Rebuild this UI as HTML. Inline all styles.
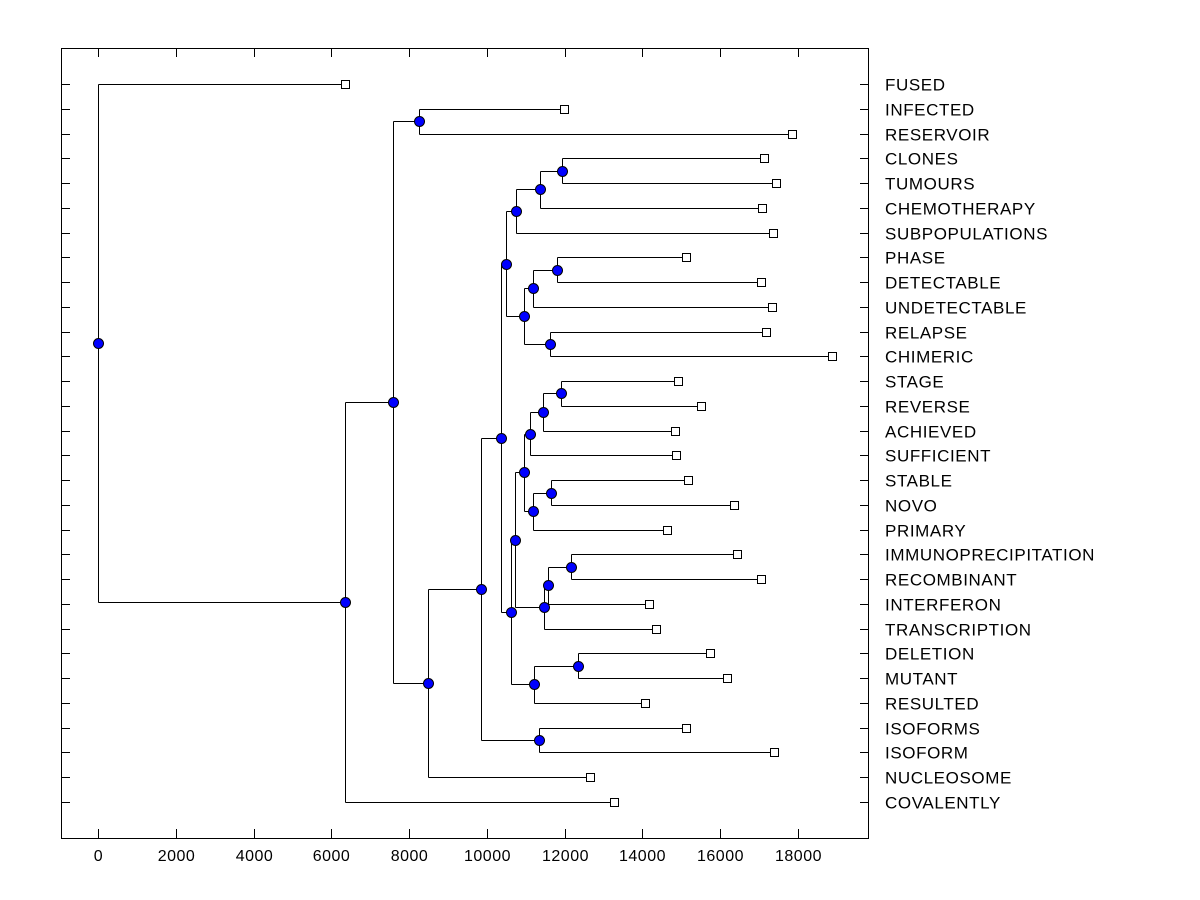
<!DOCTYPE html>
<html><head><meta charset="utf-8"><style>
body{margin:0;background:#fff;}
svg{display:block;font-family:"Liberation Sans",Arial,sans-serif;}
</style></head><body>
<svg id="chart" width="1200" height="900"></svg>
<script>
const leaves=["FUSED","INFECTED","RESERVOIR","CLONES","TUMOURS","CHEMOTHERAPY","SUBPOPULATIONS","PHASE","DETECTABLE","UNDETECTABLE","RELAPSE","CHIMERIC","STAGE","REVERSE","ACHIEVED","SUFFICIENT","STABLE","NOVO","PRIMARY","IMMUNOPRECIPITATION","RECOMBINANT","INTERFERON","TRANSCRIPTION","DELETION","MUTANT","RESULTED","ISOFORMS","ISOFORM","NUCLEOSOME","COVALENTLY"];
const leafValues=[6350,11980,17845,17125,17435,17075,17355,15120,17050,17330,17175,18875,14915,15505,14835,14865,15170,16355,14630,16430,17050,14170,14350,15735,16175,14065,15120,17385,12650,13270];
// internal nodes: [name, height, childA, childB]
const nodeNames=["M","L","J","P","N","O","K","H","X","W","U","Y","V","S","AA","Z","T","Q","AB","R","I","F","G","E","D","C","B","A","root"];
const nodeHeights=[11930,11365,10750,11800,11185,11620,10955,10490,11905,11440,11110,11650,11185,10955,12160,11570,11470,10725,12340,11210,10620,10360,11340,9850,8485,8255,7585,6350,0];
const nodeChildren=[["CLONES","TUMOURS"],["M","CHEMOTHERAPY"],["L","SUBPOPULATIONS"],["PHASE","DETECTABLE"],["P","UNDETECTABLE"],["RELAPSE","CHIMERIC"],["N","O"],["J","K"],["STAGE","REVERSE"],["X","ACHIEVED"],["W","SUFFICIENT"],["STABLE","NOVO"],["Y","PRIMARY"],["U","V"],["IMMUNOPRECIPITATION","RECOMBINANT"],["AA","INTERFERON"],["Z","TRANSCRIPTION"],["S","T"],["DELETION","MUTANT"],["AB","RESULTED"],["Q","R"],["H","I"],["ISOFORMS","ISOFORM"],["F","G"],["E","NUCLEOSOME"],["INFECTED","RESERVOIR"],["C","D"],["B","COVALENTLY"],["FUSED","A"]];
const xTicks=[0,2000,4000,6000,8000,10000,12000,14000,16000,18000];

const L=61,R=868,T=48,B=838;
const xS=v=>98+v*(700/18000);
const yS=i=>84+i*(718/29);
const svg=document.getElementById('chart');
const NS="http://www.w3.org/2000/svg";
function mk(tag,at,parent){const e=document.createElementNS(NS,tag);for(const k in at)e.setAttribute(k,at[k]);(parent||svg).appendChild(e);return e;}

const frame=mk('rect',{x:L+0.5,y:T+0.5,width:R-L,height:B-T,fill:'none',stroke:'#000','stroke-width':1});



xTicks.forEach(v=>{
  const x=Math.round(xS(v))+0.5;
  mk('line',{x1:x,y1:B,x2:x,y2:B-9,stroke:'#000'});
  mk('line',{x1:x,y1:T,x2:x,y2:T+9,stroke:'#000'});
  const t=mk('text',{x:x,y:861,'text-anchor':'middle','font-size':16,'letter-spacing':0.5,fill:'#000'});
  t.textContent=v;
  
  
});

const pos={};
leaves.forEach((n,i)=>{pos[n]={x:xS(leafValues[i]),y:yS(i)};});
nodeNames.forEach((n,i)=>{
  const a=pos[nodeChildren[i][0]],b=pos[nodeChildren[i][1]];
  pos[n]={x:xS(nodeHeights[i]),y:(a.y+b.y)/2};
});
const g=mk('g',{});


nodeNames.forEach((n,i)=>{
  const p=pos[n];
  const px=Math.round(p.x)+0.5;
  nodeChildren[i].forEach(c=>{
    const q=pos[c];
    const cy=Math.round(q.y)+0.5;
    mk('line',{x1:px,y1:cy,x2:Math.round(q.x)+0.5,y2:cy,stroke:'#000'},g);
  });
  const ya=Math.round(pos[nodeChildren[i][0]].y)+0.5,yb=Math.round(pos[nodeChildren[i][1]].y)+0.5;
  mk('line',{x1:px,y1:ya,x2:px,y2:yb,stroke:'#000'},g);
});

leaves.forEach((n,i)=>{
  const y=Math.round(yS(i))+0.5;
  mk('line',{x1:L,y1:y,x2:L+9,y2:y,stroke:'#000'});
  mk('line',{x1:R-8,y1:y,x2:R,y2:y,stroke:'#000'});
  const sq=mk('rect',{x:Math.round(pos[n].x)-3.5,y:y-4,width:8,height:8,fill:'#fff',stroke:'#000'});
  
  
  const t=mk('text',{x:885,y:y+6,'font-size':17,'letter-spacing':0.6,fill:'#000'});
  t.textContent=n;
  
  
});
nodeNames.forEach(n=>{
  const p=pos[n];
  const c=mk('circle',{cx:Math.round(p.x)+0.5,cy:Math.round(p.y)+0.5,r:5,fill:'#0000ff',stroke:'#000'});
  
  
});
</script>
</body></html>
